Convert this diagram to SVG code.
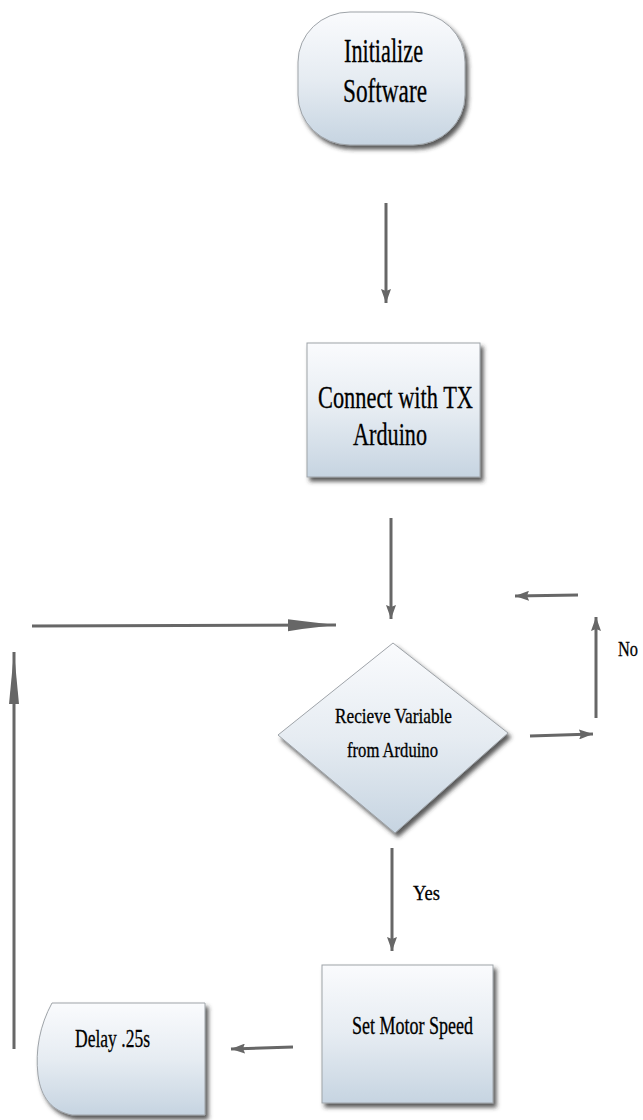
<svg xmlns="http://www.w3.org/2000/svg" width="643" height="1120" viewBox="0 0 643 1120">
<defs>
<linearGradient id="fillg" x1="0" y1="0" x2="0" y2="1">
<stop offset="0" stop-color="#fafbfd"/>
<stop offset="0.5" stop-color="#e6ecf2"/>
<stop offset="1" stop-color="#c6d4e1"/>
</linearGradient>
<filter id="sh" x="-10%" y="-10%" width="125%" height="125%">
<feDropShadow dx="3" dy="4" stdDeviation="2" flood-color="#333" flood-opacity="0.8"/>
</filter>
<marker id="ah" viewBox="0 0 14 10" refX="14" refY="5" markerWidth="14" markerHeight="10" markerUnits="userSpaceOnUse" orient="auto">
<path d="M0,0 L14,5 L0,10 L2,5 z" fill="#676767"/>
</marker>
<marker id="ahLong" viewBox="0 0 48 14" refX="48" refY="7" markerWidth="48" markerHeight="14" markerUnits="userSpaceOnUse" orient="auto">
<path d="M0,1 L14,3 L48,7 L14,11 L0,13 z" fill="#676767"/>
</marker>
<marker id="ahThin" viewBox="0 0 52 10" refX="52" refY="5" markerWidth="52" markerHeight="10" markerUnits="userSpaceOnUse" orient="auto">
<path d="M0,0 L52,5 L0,10 z" fill="#676767"/>
</marker>
</defs>
<style>
.node{fill:url(#fillg);stroke:#9ea3a8;stroke-width:1;filter:url(#sh)}
.t{font-family:"Liberation Serif","Times New Roman",serif;fill:#000;stroke:#000;stroke-width:0.3}
.c{stroke:#676767;stroke-width:3;fill:none}
</style>
<g id="connectors">
<line class="c" x1="386" y1="203" x2="386" y2="303" marker-end="url(#ah)"/>
<line class="c" x1="391" y1="518" x2="391" y2="619" marker-end="url(#ah)"/>
<line class="c" x1="32" y1="626" x2="336" y2="625" marker-end="url(#ahLong)"/>
<line class="c" x1="14" y1="1049" x2="14" y2="652" marker-end="url(#ahThin)"/>
<line class="c" x1="530" y1="736" x2="593" y2="734" marker-end="url(#ah)"/>
<line class="c" x1="596" y1="718" x2="596" y2="617" marker-end="url(#ah)"/>
<line class="c" x1="578" y1="595" x2="515" y2="596" marker-end="url(#ah)"/>
<line class="c" x1="392" y1="848" x2="392" y2="951" marker-end="url(#ah)"/>
<line class="c" x1="293" y1="1047" x2="231" y2="1049" marker-end="url(#ah)"/>
<text class="t" x="618" y="656" font-size="22" textLength="20" lengthAdjust="spacingAndGlyphs">No</text>
<text class="t" x="413" y="900" font-size="22" textLength="27" lengthAdjust="spacingAndGlyphs">Yes</text>
</g>
<g id="n-init">
<rect class="node" x="298" y="12" width="167" height="133" rx="52" ry="50"/>
<text class="t" x="344" y="62" font-size="34" textLength="79" lengthAdjust="spacingAndGlyphs">Initialize</text>
<text class="t" x="343" y="102" font-size="34" textLength="84" lengthAdjust="spacingAndGlyphs">Software</text>
</g>
<g id="n-connect">
<rect class="node" x="307" y="343" width="173" height="134"/>
<text class="t" x="318" y="408" font-size="32" textLength="155" lengthAdjust="spacingAndGlyphs">Connect with TX</text>
<text class="t" x="353" y="445" font-size="32" textLength="74" lengthAdjust="spacingAndGlyphs">Arduino</text>
</g>
<g id="n-recv">
<polygon class="node" points="393,643 508,733 395,833 278,735"/>
<text class="t" x="335" y="723" font-size="21" textLength="117" lengthAdjust="spacingAndGlyphs">Recieve Variable</text>
<text class="t" x="347" y="757" font-size="21" textLength="91" lengthAdjust="spacingAndGlyphs">from Arduino</text>
</g>
<g id="n-motor">
<rect class="node" x="322" y="965" width="171" height="138"/>
<text class="t" x="352" y="1034" font-size="25" textLength="121" lengthAdjust="spacingAndGlyphs">Set Motor Speed</text>
</g>
<g id="n-delay">
<path class="node" d="M205,1003 L52,1003 C40,1025 35,1050 38,1075 C41,1098 52,1111 72,1115 L205,1115 Z"/>
<text class="t" x="75" y="1047" font-size="25" textLength="75" lengthAdjust="spacingAndGlyphs">Delay .25s</text>
</g>
</svg>
